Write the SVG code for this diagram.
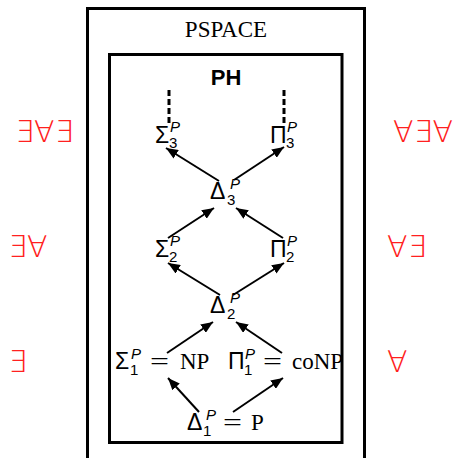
<svg xmlns="http://www.w3.org/2000/svg" width="459" height="458" viewBox="0 0 459 458">
<defs>
<marker id="ah" viewBox="0 0 12 10" refX="12" refY="5" markerWidth="12" markerHeight="10" markerUnits="userSpaceOnUse" orient="auto">
<path d="M0,0 L12,5 L0,10 z" fill="#000"/>
</marker>
<style>
.box{fill:none;stroke:#000;stroke-width:3}
.arr{stroke:#000;stroke-width:2;fill:none;marker-end:url(#ah)}
.dash{stroke:#000;stroke-width:3;stroke-dasharray:6 3;fill:none}
.g{font-family:"Liberation Sans",Arial,sans-serif;font-size:23px;fill:#000}
.s{font-family:"Liberation Sans",Arial,sans-serif;font-size:15px;fill:#000}
.i{font-style:italic}
.r{font-family:"Liberation Serif","Times New Roman",serif;font-size:23px;fill:#000}
.q{font-family:"DejaVu Sans",sans-serif;font-weight:200;font-size:30px;fill:#ff2020}
</style>
</defs>
<rect width="459" height="458" fill="#fff"/>
<g id="pspace">
<path class="box" d="M87.5,462 V8.5 H364.5 V462"/>
<text class="r" x="226" y="37" text-anchor="middle" font-size="22">PSPACE</text>
</g>
<g id="ph">
<rect class="box" x="109.5" y="54.5" width="232.5" height="388"/>
<text x="226" y="85" text-anchor="middle" font-family="Liberation Sans,Arial,sans-serif" font-weight="bold" font-size="22">PH</text>
</g>
<g id="connectors">
<path class="dash" d="M169,90 V126"/>
<path class="dash" d="M284,90 V126"/>
<path class="arr" d="M219,181 L166,148"/>
<path class="arr" d="M234,180 L284,147"/>
<path class="arr" d="M168,238 L214,208"/>
<path class="arr" d="M283,238 L236,208"/>
<path class="arr" d="M220,295 L168,263"/>
<path class="arr" d="M233,295 L284,263"/>
<path class="arr" d="M167,353 L213,322"/>
<path class="arr" d="M282,353 L236,322"/>
<path class="arr" d="M199,412 L168,378"/>
<path class="arr" d="M233,412 L283,378"/>
</g>
<g id="sigma3"><text class="g" x="155" y="143">Σ</text><text class="s i" x="170" y="132">P</text><text class="s" x="169" y="148">3</text></g>
<g id="pi3"><text class="g" x="270" y="143">Π</text><text class="s i" x="287" y="132">P</text><text class="s" x="286" y="148">3</text></g>
<g id="delta3"><text class="g" x="210" y="199">Δ</text><text class="s i" x="230" y="189">P</text><text class="s" x="227" y="205">3</text></g>
<g id="sigma2"><text class="g" x="155" y="257">Σ</text><text class="s i" x="170" y="246">P</text><text class="s" x="169" y="262">2</text></g>
<g id="pi2"><text class="g" x="270" y="257">Π</text><text class="s i" x="287" y="246">P</text><text class="s" x="286" y="262">2</text></g>
<g id="delta2"><text class="g" x="210" y="313">Δ</text><text class="s i" x="230" y="303">P</text><text class="s" x="227" y="319">2</text></g>
<g id="sigma1"><text class="g" x="115" y="369">Σ</text><text class="s i" x="131" y="359">P</text><text class="s" x="130" y="375">1</text><text class="r" x="150" y="369" textLength="19" lengthAdjust="spacingAndGlyphs">=</text><text class="r" x="180" y="369">NP</text></g>
<g id="pi1"><text class="g" x="228" y="369">Π</text><text class="s i" x="245" y="359">P</text><text class="s" x="244" y="375">1</text><text class="r" x="263" y="369" textLength="19" lengthAdjust="spacingAndGlyphs">=</text><text class="r" x="292" y="369">coNP</text></g>
<g id="delta1"><text class="g" x="187" y="430">Δ</text><text class="s i" x="206" y="420">P</text><text class="s" x="203" y="436">1</text><text class="r" x="223" y="430" textLength="19" lengthAdjust="spacingAndGlyphs">=</text><text class="r" x="251" y="430">P</text></g>
<g id="quant">
<text class="q" x="15" y="142">∃∀∃</text>
<text class="q" x="8" y="257">∃∀</text>
<text class="q" x="8" y="372">∃</text>
<text class="q" x="393" y="142">∀∃∀</text>
<text class="q" x="387" y="257">∀∃</text>
<text class="q" x="387" y="372">∀</text>
</g>
</svg>
